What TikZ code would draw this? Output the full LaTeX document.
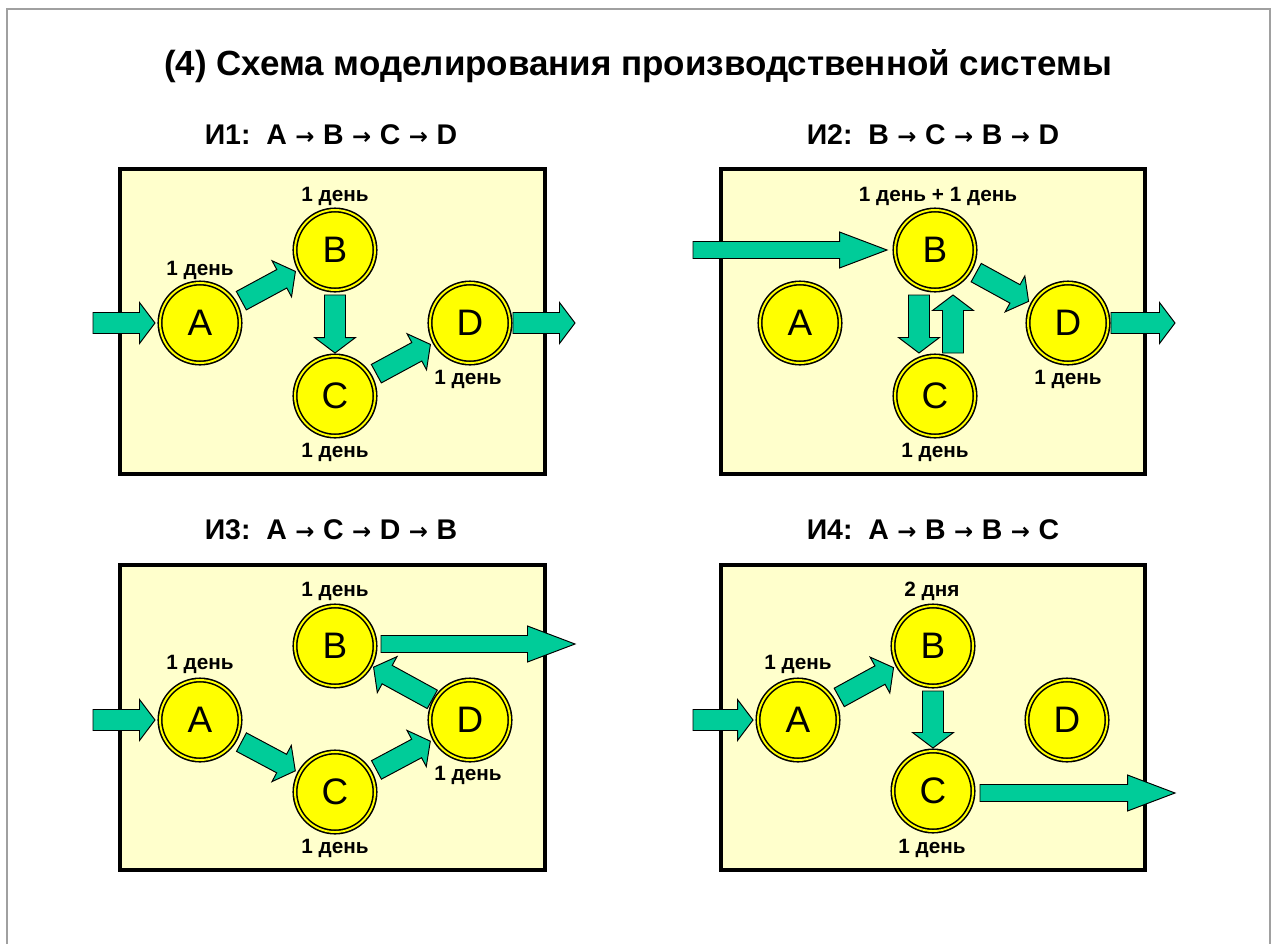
\documentclass[tikz,border=0pt]{standalone}
\usepackage{fontspec}
\setmainfont{Liberation Sans}
\newfontfamily\symfnt{DejaVu Sans}
\usetikzlibrary{calc}
\definecolor{panelbg}{HTML}{FFFFCC}
\definecolor{nodeyel}{HTML}{FFFF00}
\definecolor{arrgreen}{HTML}{00CC99}
\definecolor{framegray}{HTML}{A0A0A0}
\newcommand\parr{\hspace{0.3em}{\symfnt\fontsize{13}{13}\selectfont\bfseries →}\hspace{0.3em}}
\tikzset{
  panel/.style={draw=black, fill=panelbg, line width=2.4pt},
  station/.style={circle, draw=black, line width=0.9pt, double=nodeyel, double distance=1.1pt,
    fill=nodeyel, minimum size=1.6cm, inner sep=0pt, font=\fontsize{21}{21}\selectfont},
  daylabel/.style={font=\fontsize{11.8}{12}\selectfont\bfseries, inner sep=0pt},
  subtitle/.style={font=\fontsize{16.2}{16}\selectfont\bfseries, inner sep=0pt},
  maintitle/.style={font=\fontsize{19.9}{20}\selectfont\bfseries, inner sep=0pt},
  blockarrow/.style={fill=arrgreen, draw=black, line width=0.55pt, line join=miter},
}
% block arrow: #1 start, #2 tip, #3 shaft half width, #4 head half width, #5 head length
\newcommand\blockarr[5]{%
  \coordinate (ba-s) at #1;
  \coordinate (ba-e) at #2;
  \coordinate (ba-h) at ($(ba-e)!#5!(ba-s)$);
  \filldraw[blockarrow] ($(ba-s)!#3!90:(ba-e)$) -- ($(ba-h)!#3!-90:(ba-s)$) -- ($(ba-h)!#4!-90:(ba-s)$)
    -- (ba-e) -- ($(ba-h)!#4!90:(ba-s)$) -- ($(ba-h)!#3!90:(ba-s)$) -- ($(ba-s)!#3!-90:(ba-e)$) -- cycle;}
\newcommand\shortarr[2]{\blockarr{#1}{#2}{0.21cm}{0.41cm}{0.31cm}}
\newcommand\longarr[2]{\blockarr{#1}{#2}{0.17cm}{0.36cm}{0.95cm}}
\begin{document}
\begin{tikzpicture}[x=0.02cm, y=-0.02cm]
\useasboundingbox (0,0) rectangle (1272,944);
\fill[white] (0,0) rectangle (1272,944);
\draw[framegray, line width=1.2pt] (7,944) -- (7,9) -- (1270,9) -- (1270,944);

\node[maintitle] (title) at (638,66) {(4) Схема моделирования производственной системы};

\node[subtitle] (st1) at (331,135) {И1:\ \ A\parr B\parr C\parr D};
\node[subtitle] (st2) at (933,135) {И2:\ \ B\parr C\parr B\parr D};
\node[subtitle] (st3) at (331,530) {И3:\ \ A\parr C\parr D\parr B};
\node[subtitle] (st4) at (933,530) {И4:\ \ A\parr B\parr B\parr C};

\draw[panel] (120,169) rectangle (545,474);
\draw[panel] (721,169) rectangle (1145,474);
\draw[panel] (120,565) rectangle (545,870);
\draw[panel] (721,565) rectangle (1145,870);

% ---------- Panel 1 ----------
\node[station] (A1) at (200,323) {A};
\node[station] (B1) at (335,250) {B};
\node[station] (C1) at (335,396) {C};
\node[station] (D1) at (470,323) {D};
\node[daylabel] (lA1) at (200,270) {1 день};
\node[daylabel] (lB1) at (335,196) {1 день};
\node[daylabel] (lC1) at (335,452) {1 день};
\node[daylabel] (lD1) at (468,379) {1 день};
\coordinate (in1) at (93,323);
\coordinate (out1) at (575,323);
\shortarr{(in1)}{($(A1)!0.9cm!(in1)$)}
\shortarr{($(A1)!0.94cm!(B1)$)}{($(B1)!0.9cm!(A1)$)}
\shortarr{($(B1)!0.9cm!(C1)$)}{($(C1)!0.86cm!(B1)$)}
\shortarr{($(C1)!0.94cm!(D1)$)}{($(D1)!0.9cm!(C1)$)}
\shortarr{($(D1)!0.86cm!(out1)$)}{(out1)}

% ---------- Panel 2 ----------
\node[station] (A2) at (800,323) {A};
\node[station] (B2) at (935,250) {B};
\node[station] (C2) at (935,396) {C};
\node[station] (D2) at (1068,323) {D};
\node[daylabel] (lB2) at (938,196) {1 день + 1 день};
\node[daylabel] (lC2) at (935,452) {1 день};
\node[daylabel] (lD2) at (1068,379) {1 день};
\coordinate (in2) at (693,250);
\coordinate (out2) at (1175,323);
\longarr{(in2)}{($(B2)!0.96cm!(in2)$)}
\shortarr{($(B2)+(-16,45)$)}{($(C2)+(-16,-43)$)}
\shortarr{($(C2)+(18,-43)$)}{($(B2)+(18,45)$)}
\shortarr{($(B2)!0.94cm!(D2)$)}{($(D2)!0.9cm!(B2)$)}
\shortarr{($(D2)!0.86cm!(out2)$)}{(out2)}

% ---------- Panel 3 ----------
\node[station] (A3) at (200,720) {A};
\node[station] (B3) at (335,646) {B};
\node[station] (C3) at (335,792) {C};
\node[station] (D3) at (470,720) {D};
\node[daylabel] (lA3) at (200,664) {1 день};
\node[daylabel] (lB3) at (335,591) {1 день};
\node[daylabel] (lC3) at (335,848) {1 день};
\node[daylabel] (lD3) at (468,775) {1 день};
\coordinate (in3) at (93,720);
\coordinate (out3) at (575,644);
\shortarr{(in3)}{($(A3)!0.9cm!(in3)$)}
\shortarr{($(A3)!0.94cm!(C3)$)}{($(C3)!0.9cm!(A3)$)}
\shortarr{($(C3)!0.94cm!(D3)$)}{($(D3)!0.9cm!(C3)$)}
\shortarr{($(D3)!0.86cm!(B3)$)}{($(B3)!0.88cm!(D3)$)}
\longarr{($(B3)+(46,-2)$)}{(out3)}

% ---------- Panel 4 ----------
\node[station] (A4) at (798,720) {A};
\node[station] (B4) at (933,646) {B};
\node[station] (C4) at (933,791) {C};
\node[station] (D4) at (1067,720) {D};
\node[daylabel] (lA4) at (798,664) {1 день};
\node[daylabel] (lB4) at (932,591) {2 дня};
\node[daylabel] (lC4) at (932,848) {1 день};
\coordinate (in4) at (693,720);
\coordinate (out4) at (1175,793);
\shortarr{(in4)}{($(A4)!0.9cm!(in4)$)}
\shortarr{($(A4)!0.94cm!(B4)$)}{($(B4)!0.9cm!(A4)$)}
\shortarr{($(B4)+(0,45)$)}{($(C4)+(0,-43)$)}
\longarr{($(C4)+(47,2)$)}{(out4)}
\end{tikzpicture}
\end{document}
